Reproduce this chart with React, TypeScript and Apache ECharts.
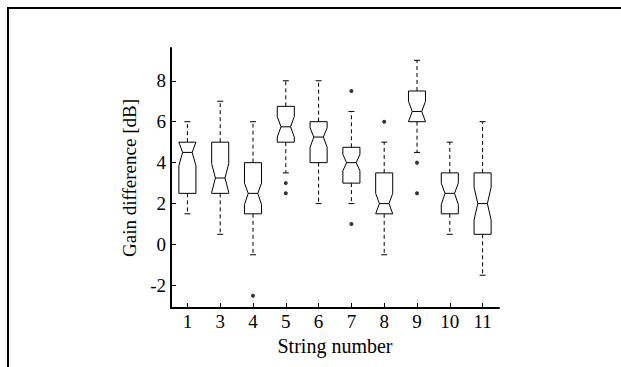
import React, { useEffect, useRef } from "react";
import * as echarts from "echarts";

const categories = ["1", "3", "4", "5", "6", "7", "8", "9", "10", "11"];
const whiskerLow = [1.5, 0.5, -0.5, 3.5, 2, 2, -0.5, 4.5, 0.5, -1.5];
const q1 = [2.5, 2.5, 1.5, 5, 4, 3, 1.5, 6, 1.5, 0.5];
const median = [4.5, 3.25, 2.5, 5.75, 5.25, 4, 2, 6.5, 2.5, 2];
const q3 = [5, 5, 4, 6.75, 6, 4.75, 3.5, 7.5, 3.5, 3.5];
const whiskerHigh = [6, 7, 6, 8, 8, 6.5, 5, 9, 5, 6];
const notchLow = [3.85, 2.55, 1.95, 5.25, 4.75, 3.6, 1.5, 6.0, 1.95, 1.2];
const notchHigh = [5.0, 3.95, 3.0, 6.25, 5.7, 4.4, 2.5, 7.0, 3.0, 2.8];
const outlierCats = ["4", "5", "5", "7", "7", "8", "9", "9"];
const outlierVals = [-2.5, 3, 2.5, 7.5, 1, 6, 4, 2.5];
const yTicks = [-2, 0, 2, 4, 6, 8];

const FONT = "Liberation Serif";

export default function App() {
  const ref = useRef<HTMLDivElement>(null);
  useEffect(() => {
    if (!ref.current) return;
    const chart = echarts.init(ref.current, null, { renderer: "svg" });
    const boxData = categories.map((_, i) => [
      i,
      whiskerLow[i],
      q1[i],
      notchLow[i],
      median[i],
      notchHigh[i],
      q3[i],
      whiskerHigh[i],
    ]);
    const renderItem = (params: any, api: any) => {
      const idx = api.value(0);
      const band = api.size([1, 0])[0];
      const bw = band * 0.52;
      const nw = bw * 0.56;
      const capW = 6;
      const c = (v: number) => api.coord([idx, v]);
      const pLow = c(api.value(1));
      const pQ1 = c(api.value(2));
      const pNL = c(api.value(3));
      const pMed = c(api.value(4));
      const pNH = c(api.value(5));
      const pQ3 = c(api.value(6));
      const pHigh = c(api.value(7));
      const cx = pMed[0];
      const L = cx - bw / 2;
      const R = cx + bw / 2;
      const stroke = { stroke: "#000", lineWidth: 1 };
      return {
        type: "group",
        children: [
          {
            type: "line",
            shape: { x1: cx, y1: pQ3[1], x2: cx, y2: pHigh[1] },
            style: { ...stroke, lineDash: [4, 3] },
          },
          {
            type: "line",
            shape: { x1: cx, y1: pQ1[1], x2: cx, y2: pLow[1] },
            style: { ...stroke, lineDash: [4, 3] },
          },
          {
            type: "line",
            shape: { x1: cx - capW / 2, y1: pHigh[1], x2: cx + capW / 2, y2: pHigh[1] },
            style: stroke,
          },
          {
            type: "line",
            shape: { x1: cx - capW / 2, y1: pLow[1], x2: cx + capW / 2, y2: pLow[1] },
            style: stroke,
          },
          {
            type: "polygon",
            shape: {
              points: [
                [L, pQ3[1]],
                [R, pQ3[1]],
                [R, pNH[1]],
                [cx + nw / 2, pMed[1]],
                [R, pNL[1]],
                [R, pQ1[1]],
                [L, pQ1[1]],
                [L, pNL[1]],
                [cx - nw / 2, pMed[1]],
                [L, pNH[1]],
              ],
            },
            style: { ...stroke, fill: "#fff" },
          },
          {
            type: "line",
            shape: { x1: cx - nw / 2, y1: pMed[1], x2: cx + nw / 2, y2: pMed[1] },
            style: stroke,
          },
        ],
      };
    };
    chart.setOption({
      animation: false,
      backgroundColor: "#fff",
      graphic: [
        {
          type: "line",
          shape: { x1: 7, y1: 8, x2: 621, y2: 8 },
          style: { stroke: "#000", lineWidth: 2 },
        },
        {
          type: "line",
          shape: { x1: 8, y1: 7, x2: 8, y2: 367 },
          style: { stroke: "#000", lineWidth: 2 },
        },
      ],
      grid: { left: 171, right: 122, top: 48, bottom: 59 },
      xAxis: {
        type: "category",
        data: categories,
        boundaryGap: true,
        name: "String number",
        nameLocation: "middle",
        nameGap: 26,
        nameTextStyle: { fontFamily: FONT, fontSize: 20, color: "#000" },
        axisLine: { show: true, onZero: false, lineStyle: { color: "#000", width: 2 } },
        axisTick: {
          show: true,
          alignWithLabel: true,
          inside: true,
          length: 5,
          lineStyle: { color: "#000", width: 1 },
        },
        axisLabel: { fontFamily: FONT, fontSize: 19, color: "#000", margin: 4 },
        splitLine: { show: false },
      },
      yAxis: {
        type: "value",
        min: -3.1,
        max: 9.6,
        name: "Gain difference [dB]",
        nameLocation: "middle",
        nameGap: 30,
        nameTextStyle: { fontFamily: FONT, fontSize: 19, color: "#000" },
        axisLine: { show: true, onZero: false, lineStyle: { color: "#000", width: 2 } },
        axisTick: {
          show: true,
          inside: true,
          length: 5,
          customValues: yTicks,
          lineStyle: { color: "#000", width: 1 },
        },
        axisLabel: {
          fontFamily: FONT,
          fontSize: 19,
          color: "#000",
          margin: 5,
          customValues: yTicks,
        },
        splitLine: { show: false },
      },
      series: [
        {
          type: "custom",
          renderItem,
          data: boxData,
          clip: false,
          encode: { x: 0, y: [1, 2, 3, 4, 5, 6, 7] },
        },
        {
          type: "scatter",
          data: outlierCats.map((c, i) => [c, outlierVals[i]]),
          symbol: "circle",
          symbolSize: 4,
          itemStyle: { color: "#000" },
        },
      ],
    });
    return () => chart.dispose();
  }, []);
  return (
    <div
      ref={ref}
      style={{ position: "fixed", left: 0, top: 0, width: 621, height: 367 }}
    />
  );
}
